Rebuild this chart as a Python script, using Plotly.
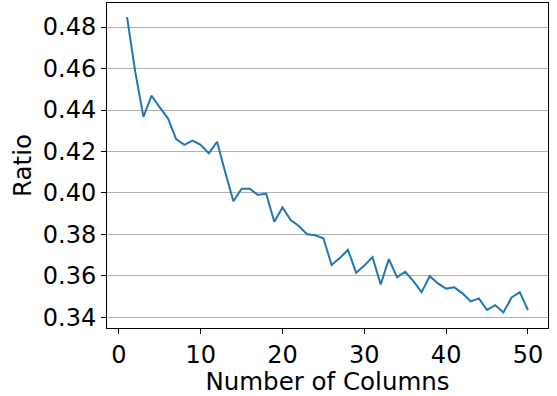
import plotly.graph_objects as go

columns = list(range(1, 51))
ratio = [0.4848, 0.4585, 0.4367, 0.4469, 0.4413, 0.4360, 0.4260, 0.4232, 0.4253, 0.4232,
         0.4191, 0.4247, 0.4100, 0.3960, 0.4021, 0.4021, 0.3990, 0.3997, 0.3861, 0.3930,
         0.3870, 0.3841, 0.3801, 0.3796, 0.3782, 0.3653, 0.3686, 0.3726, 0.3615, 0.3650,
         0.3691, 0.3559, 0.3681, 0.3594, 0.3620, 0.3575, 0.3522, 0.3599, 0.3564, 0.3539,
         0.3545, 0.3516, 0.3477, 0.3492, 0.3436, 0.3459, 0.3424, 0.3496, 0.3522, 0.3436]
y_ticks = [0.34, 0.36, 0.38, 0.40, 0.42, 0.44, 0.46, 0.48]
x_ticks = [0, 10, 20, 30, 40, 50]

fig = go.Figure(go.Scatter(x=columns, y=ratio, mode="lines",
                           line=dict(color="#1f77b4", width=2)))

font = dict(family="DejaVu Sans", size=24, color="black")
title_font = dict(family="DejaVu Sans", size=24.5, color="black")
fig.update_layout(
    width=557, height=396,
    margin=dict(l=107, r=9, t=3, b=68),
    paper_bgcolor="white", plot_bgcolor="white",
    font=font, showlegend=False,
)
fig.update_xaxes(
    range=[-1.45, 52.45], tickvals=x_ticks, ticks="outside", ticklen=5, tickcolor="black",
    showline=True, linecolor="black", linewidth=1, mirror=True, showgrid=False,
    zeroline=False, automargin=False,
    title=dict(text="Number of Columns", standoff=3, font=title_font), tickfont=font,
)
fig.update_yaxes(
    range=[0.3349, 0.4916], tickvals=y_ticks, tickformat=".2f", ticks="outside", ticklen=5,
    tickcolor="black", showline=True, linecolor="black", linewidth=1, mirror=True,
    showgrid=True, gridcolor="#b0b0b0", gridwidth=1, zeroline=False, automargin=False,
    title=dict(text="Ratio", standoff=4, font=title_font), tickfont=font,
)
fig.write_html(
    "out.html",
    config={"displayModeBar": False},
    post_script="document.body.style.margin='0';document.body.style.overflow='hidden';",
)
